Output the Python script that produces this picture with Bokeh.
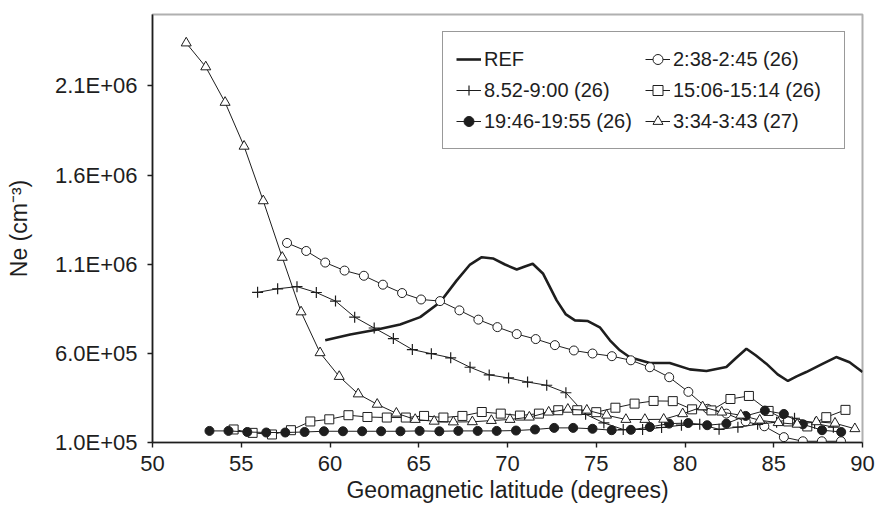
from bokeh.plotting import figure
from bokeh.models import Range1d, FixedTicker, Legend, LegendItem
from bokeh.embed import file_html
from bokeh.resources import INLINE

# ---------------- data ----------------
x_ticks = [50, 55, 60, 65, 70, 75, 80, 85, 90]
y_ticks = [100000, 600000, 1100000, 1600000, 2100000]
y_tick_labels = ["1.0E+05", "6.0E+05", "1.1E+06", "1.6E+06", "2.1E+06"]

ref_lat = [59.73, 61.14, 62.60, 63.95, 65.08, 66.20, 67.14, 67.89, 68.55, 69.18,
           69.86, 70.52, 70.98, 71.42, 72.01, 72.77, 73.29, 73.80, 74.53, 75.20,
           75.77, 76.33, 76.89, 78.02, 79.14, 80.27, 81.21, 82.33, 82.86, 83.46,
           83.98, 84.58, 85.22, 85.80, 86.29, 86.83, 87.69, 88.52, 89.27, 90.0]
ref_ne = [6.73, 7.06, 7.32, 7.62, 8.03, 8.86, 10.09, 10.98, 11.39, 11.32,
          10.98, 10.70, 10.87, 11.02, 10.46, 8.97, 8.18, 7.85, 7.81, 7.46,
          6.73, 6.17, 5.78, 5.46, 5.46, 5.10, 5.01, 5.23, 5.72, 6.26,
          5.89, 5.42, 4.82, 4.45, 4.71, 4.95, 5.38, 5.79, 5.50, 4.95]

c_lat = [57.58, 58.66, 59.73, 60.82, 61.91, 62.98, 64.06, 65.13, 66.20, 67.29,
         68.36, 69.43, 70.52, 71.59, 72.67, 73.74, 74.79, 75.88, 76.95, 78.02,
         79.11, 80.19, 81.28, 82.33, 83.42, 84.47, 85.57, 86.64, 87.71, 88.79]
c_ne = [12.19, 11.74, 11.09, 10.64, 10.35, 9.85, 9.38, 9.02, 8.93, 8.41,
        7.89, 7.47, 7.08, 6.80, 6.46, 6.16, 5.99, 5.84, 5.61, 5.22,
        4.66, 3.84, 2.89, 2.62, 2.18, 1.91, 1.30, 1.07, 1.07, 1.07]

p_lat = [55.92, 57.05, 58.14, 59.23, 60.31, 61.39, 62.49, 63.57, 64.64, 65.71,
         66.80, 67.89, 68.97, 70.06, 71.13, 72.21, 73.29, 74.40, 75.43, 76.52,
         77.61, 78.68, 79.80, 80.83, 81.92, 82.98, 84.09, 85.16, 86.17, 87.30, 88.36]
p_ne = [9.42, 9.62, 9.74, 9.41, 8.93, 8.03, 7.42, 6.83, 6.21, 5.98,
        5.75, 5.22, 4.79, 4.62, 4.39, 4.21, 3.79, 2.58, 2.10, 1.73,
        1.73, 1.84, 1.97, 2.02, 1.74, 1.86, 2.02, 2.14, 2.36, 2.08, 1.86]

s_lat = [54.57, 55.64, 56.73, 57.80, 58.89, 59.96, 61.04, 62.11, 63.20, 64.27,
         65.30, 66.39, 67.46, 68.55, 69.62, 70.70, 71.77, 72.86, 73.93, 75.00,
         76.08, 77.16, 78.23, 79.31, 80.40, 81.49, 82.56, 83.60, 84.71, 85.81,
         86.89, 87.96, 89.04]
s_ne = [1.73, 1.54, 1.45, 1.69, 2.18, 2.30, 2.53, 2.43, 2.40, 2.40,
        2.49, 2.40, 2.49, 2.71, 2.62, 2.51, 2.62, 2.81, 2.81, 2.70,
        2.95, 3.18, 3.33, 3.32, 2.86, 2.80, 3.44, 3.61, 2.77, 2.18,
        1.90, 2.42, 2.83]

f_lat = [53.21, 54.28, 55.34, 56.41, 57.48, 58.57, 59.66, 60.73, 61.81, 62.88,
         63.97, 65.05, 66.16, 67.23, 68.32, 69.39, 70.48, 71.55, 72.63, 73.70,
         74.79, 75.87, 76.95, 78.02, 79.10, 80.18, 81.25, 82.33, 83.42, 84.50,
         85.57, 86.64, 87.72, 88.80]
f_ne = [1.65, 1.65, 1.59, 1.56, 1.56, 1.59, 1.63, 1.63, 1.63, 1.63,
        1.63, 1.65, 1.63, 1.65, 1.65, 1.65, 1.67, 1.73, 1.82, 1.82,
        1.77, 1.69, 1.71, 1.87, 2.06, 2.09, 1.97, 2.06, 2.49, 2.79,
        2.60, 2.02, 1.69, 1.59]

t_lat = [51.90, 53.00, 54.09, 55.16, 56.24, 57.31, 58.37, 59.44, 60.52, 61.59,
         62.66, 63.74, 64.80, 65.87, 66.95, 68.02, 69.09, 70.14, 71.23, 72.32,
         73.40, 74.47, 75.58, 76.67, 77.74, 78.80, 79.87, 80.99, 82.07, 83.14,
         84.21, 85.25, 86.32, 87.40, 88.45, 89.57]
t_ne = [23.40, 22.06, 20.07, 17.61, 14.55, 11.38, 8.32, 6.03, 4.70, 3.72,
        3.14, 2.64, 2.29, 2.19, 2.15, 2.16, 2.23, 2.29, 2.42, 2.70,
        2.86, 2.81, 2.53, 2.29, 2.29, 2.30, 2.61, 3.00, 2.70, 2.53,
        2.25, 2.11, 2.02, 2.16, 2.08, 1.77]

NE_UNIT = 1e5  # values above are in units of 1e5 cm^-3

labels = ["REF", "2:38-2:45 (26)", "8.52-9:00 (26)", "15:06-15:14 (26)",
          "19:46-19:55 (26)", "3:34-3:43 (27)"]

# ---------------- figure ----------------
FONT = "Liberation Sans"
INK = "#1e1e1e"

p = figure(frame_width=710, frame_height=428, output_backend="svg",
           toolbar_location=None,
           x_range=Range1d(50, 90), y_range=Range1d(100000, 2500000),
           min_border_left=152, min_border_right=14, min_border_top=14,
           min_border_bottom=68)
p.background_fill_color = "white"
p.border_fill_color = "white"
p.outline_line_color = "#b0b0b0"
p.outline_line_width = 2
p.xgrid.visible = False
p.ygrid.visible = False

def scaled(vals):
    return [v * NE_UNIT for v in vals]

r_ref = p.line(ref_lat, scaled(ref_ne), line_color=INK, line_width=2.6)

l_c = p.line(c_lat, scaled(c_ne), line_color=INK, line_width=1)
m_c = p.scatter(c_lat, scaled(c_ne), marker="circle", size=9, fill_color="white",
                line_color=INK, line_width=1)

l_p = p.line(p_lat, scaled(p_ne), line_color=INK, line_width=1)
m_p = p.scatter(p_lat, scaled(p_ne), marker="cross", size=11, line_color=INK,
                line_width=1.2)

l_s = p.line(s_lat, scaled(s_ne), line_color=INK, line_width=1)
m_s = p.scatter(s_lat, scaled(s_ne), marker="square", size=9, fill_color="white",
                line_color=INK, line_width=1)

l_f = p.line(f_lat, scaled(f_ne), line_color=INK, line_width=1)
m_f = p.scatter(f_lat, scaled(f_ne), marker="circle", size=9, fill_color=INK,
                line_color=INK, line_width=1)

l_t = p.line(t_lat, scaled(t_ne), line_color=INK, line_width=1)
m_t = p.scatter(t_lat, scaled(t_ne), marker="triangle", size=10, fill_color="white",
                line_color=INK, line_width=1)

# ---------------- axes ----------------
p.xaxis.ticker = FixedTicker(ticks=x_ticks)
p.yaxis.ticker = FixedTicker(ticks=y_ticks)
p.yaxis.major_label_overrides = {v: s for v, s in zip(y_ticks, y_tick_labels)}
p.xaxis.axis_label = "Geomagnetic latitude (degrees)"
p.yaxis.axis_label = "Ne (cm\u207b\u00b3)"
for ax in (p.xaxis, p.yaxis):
    ax.axis_line_color = INK
    ax.axis_line_width = 1.6
    ax.major_tick_line_color = INK
    ax.major_tick_line_width = 1.4
    ax.major_tick_out = 5
    ax.major_tick_in = 0
    ax.minor_tick_line_color = None
    ax.major_label_text_font = FONT
    ax.major_label_text_font_size = "22px"
    ax.major_label_text_color = INK
    ax.axis_label_text_font = FONT
    ax.axis_label_text_font_size = "23px"
    ax.axis_label_text_font_style = "normal"
    ax.axis_label_text_color = INK
p.xaxis.major_label_standoff = 8
p.xaxis.axis_label_standoff = 3
p.yaxis.major_label_standoff = 10
p.yaxis.axis_label_standoff = 20

# ---------------- legend (column-major fill) ----------------
order = [0, 2, 4, 1, 3, 5]
renderer_sets = [[r_ref], [l_c, m_c], [l_p, m_p], [l_s, m_s], [l_f, m_f], [l_t, m_t]]
items = [LegendItem(label=labels[i], renderers=renderer_sets[i]) for i in order]
legend = Legend(items=items, ncols=2, location="top_right", margin=17,
                label_text_font=FONT, label_text_font_size="20px",
                label_text_color=INK, label_height=28, glyph_height=28,
                glyph_width=25, label_standoff=3, label_width=158,
                spacing=3, padding=13, border_line_color="#333333",
                border_line_width=1.5, background_fill_color="white",
                background_fill_alpha=1)
p.add_layout(legend)

open("out.html", "w").write(file_html(p, INLINE))
